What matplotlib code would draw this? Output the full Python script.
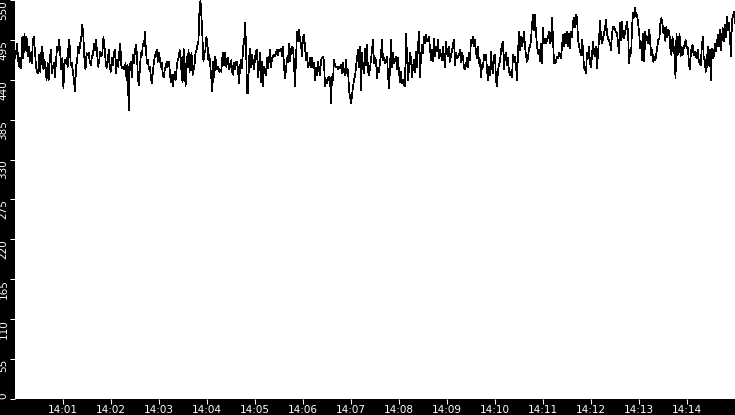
import numpy as np
import pandas as pd
import matplotlib
matplotlib.use("Agg")
import matplotlib.pyplot as plt
import matplotlib.dates as mdates

# ---------------------------------------------------------------------------
# data: one reading list per 2.5 minute slice
# ---------------------------------------------------------------------------
seg_starts = ["2024-01-01 14:00:00", "2024-01-01 14:02:30", "2024-01-01 14:05:00",
              "2024-01-01 14:07:30", "2024-01-01 14:10:00", "2024-01-01 14:12:30"]
seg_seconds = 150

seg_1 = [470, 477, 490, 467, 458, 470, 456, 499, 470, 504, 481, 499, 472, 486, 465, 477,
         463, 495, 499, 479, 458, 451, 449, 474, 451, 477, 486, 454, 467, 454, 440, 463,
         440, 467, 481, 449, 458, 463, 444, 467, 486, 481, 495, 474, 454, 470, 428, 467,
         463, 470, 458, 495, 486, 460, 463, 451, 440, 424, 458, 467, 486, 477, 490, 499,
         516, 499, 467, 454, 477, 474, 477, 465, 460, 472, 474, 490, 481, 495, 477, 458,
         467, 479, 472, 477, 499, 486, 467, 456, 463, 481, 458, 451, 470, 460, 477, 481,
         449, 467, 458, 477, 490, 460, 456, 458, 454, 463, 440, 460, 398, 458, 465, 444,
         474, 463]

seg_2 = [481, 488, 474, 440, 433, 458, 477, 474, 490, 486, 506, 481, 463, 467, 454, 458,
         444, 435, 451, 463, 472, 477, 481, 465, 477, 470, 458, 463, 447, 444, 454, 458,
         465, 458, 465, 454, 437, 447, 431, 440, 451, 440, 456, 467, 470, 481, 472, 447,
         437, 483, 458, 431, 472, 458, 481, 451, 465, 477, 447, 454, 460, 477, 481, 488,
         493, 536, 550, 527, 499, 465, 477, 481, 499, 490, 467, 474, 458, 440, 424, 465,
         444, 472, 460, 454, 458, 451, 454, 451, 470, 477, 460, 477, 458, 465, 470, 454,
         460, 467, 451, 447, 463, 454, 465, 465, 451, 435, 460, 467, 456, 486, 490, 518,
         486, 421, 421, 470, 483, 458, 474, 465, 454]

seg_3 = [470, 479, 481, 444, 458, 477, 437, 465, 431, 458, 454, 447, 470, 456, 467, 481,
         458, 470, 472, 474, 472, 477, 481, 474, 481, 479, 483, 472, 486, 458, 442, 454,
         470, 465, 490, 465, 481, 486, 483, 463, 431, 467, 506, 493, 509, 495, 490, 472,
         499, 502, 486, 467, 477, 458, 460, 470, 458, 470, 458, 463, 440, 456, 447, 465,
         454, 447, 467, 470, 472, 465, 431, 440, 435, 442, 444, 442, 408, 444, 440, 467,
         460, 458, 458, 454, 458, 456, 460, 449, 463, 451, 447, 467, 449, 454, 426, 417,
         408, 417, 431, 440, 444, 458, 470, 481, 458, 486, 426, 477, 458, 449, 483, 460,
         488, 451, 447, 456, 467, 481, 495, 463]

seg_4 = [470, 467, 442, 456, 451, 465, 474, 495, 467, 470, 463, 465, 472, 447, 428, 456,
         495, 458, 477, 463, 467, 472, 454, 470, 451, 437, 451, 435, 440, 433, 431, 504,
         474, 440, 456, 477, 470, 444, 458, 467, 451, 479, 458, 486, 506, 444, 472, 488,
         477, 499, 490, 502, 493, 495, 499, 483, 467, 481, 465, 497, 472, 486, 479, 495,
         470, 481, 474, 467, 486, 472, 458, 493, 477, 472, 486, 465, 474, 479, 490, 495,
         460, 477, 470, 472, 474, 481, 465, 477, 472, 456, 454, 460, 470, 458, 477, 467,
         495, 490, 499, 486, 495, 477, 470, 486, 463, 467, 444, 460, 458, 474, 467, 474,
         454, 440, 458, 447, 479, 458, 449, 472]

seg_5 = [474, 440, 431, 454, 460, 465, 481, 488, 493, 454, 474, 477, 460, 470, 451, 447,
         451, 444, 474, 465, 472, 460, 440, 477, 506, 481, 499, 486, 495, 506, 486, 474,
         465, 470, 483, 486, 495, 516, 529, 509, 529, 504, 486, 477, 481, 465, 490, 463,
         511, 490, 497, 490, 495, 499, 506, 490, 495, 525, 497, 463, 463, 465, 472, 470,
         477, 474, 470, 486, 502, 486, 504, 490, 506, 486, 504, 483, 506, 499, 520, 525,
         513, 529, 527, 495, 488, 479, 474, 495, 483, 456, 454, 449, 477, 470, 486, 463,
         458, 474, 493, 477, 472, 486, 456, 477, 495, 522, 499, 490, 497, 504, 511, 522,
         504, 497, 495, 490, 481, 504, 513, 513]

seg_6 = [509, 506, 504, 490, 477, 518, 495, 520, 499, 497, 506, 513, 520, 504, 463, 481,
         477, 516, 532, 527, 539, 527, 529, 516, 504, 483, 493, 467, 504, 465, 506, 495,
         499, 490, 509, 490, 474, 481, 465, 472, 467, 477, 486, 495, 497, 518, 525, 518,
         504, 511, 493, 513, 499, 509, 504, 481, 474, 499, 488, 474, 442, 504, 474, 483,
         504, 472, 486, 474, 483, 488, 495, 483, 486, 470, 454, 472, 486, 488, 474, 479,
         474, 470, 481, 467, 463, 460, 483, 499, 470, 467, 451, 458, 486, 460, 481, 440,
         483, 470, 472, 490, 479, 488, 502, 486, 509, 481, 499, 511, 493, 516, 499, 527,
         509, 518, 499, 472, 522, 527, 534, 518]

segments = [seg_1, seg_2, seg_3, seg_4, seg_5, seg_6]

y_ticks = [0, 55, 110, 165, 220, 275, 330, 385, 440, 495, 550]

# build the time axis for each slice
times, values = [], []
for i, (start, seg) in enumerate(zip(seg_starts, segments)):
    last = i == len(segments) - 1
    offs = np.linspace(0, seg_seconds, len(seg), endpoint=last)
    times.append(pd.Timestamp(start) + pd.to_timedelta(offs, unit="s"))
    values.extend(seg)
times = np.concatenate([t.to_numpy() for t in times])
values = np.array(values)

# ---------------------------------------------------------------------------
# figure
# ---------------------------------------------------------------------------
fig = plt.figure(figsize=(7.35, 4.15), dpi=100, facecolor="black")
ax = fig.add_axes([15 / 735, 16 / 415, 720 / 735, 399 / 415], facecolor="white")

ax.plot(times, values, color="black", linewidth=0.5, antialiased=False)

ax.set_xlim(pd.Timestamp("2024-01-01 14:00:00"), pd.Timestamp("2024-01-01 14:15:00"))
ax.set_ylim(0, 550)
ax.set_yticks(y_ticks)
ax.xaxis.set_major_locator(mdates.MinuteLocator(byminute=range(1, 15)))
ax.xaxis.set_major_formatter(mdates.DateFormatter("%H:%M"))

for s in ax.spines.values():
    s.set_visible(False)

ax.tick_params(colors="white", labelcolor="white", length=3.6, width=0.75,
               direction="out", labelsize=7.5, pad=1)
for lbl in ax.get_yticklabels():
    lbl.set_rotation(90)
    lbl.set_verticalalignment("top")
ax.get_yticklabels()[0].set_verticalalignment("bottom")

fig.savefig("out.png", dpi=100, facecolor="black")
